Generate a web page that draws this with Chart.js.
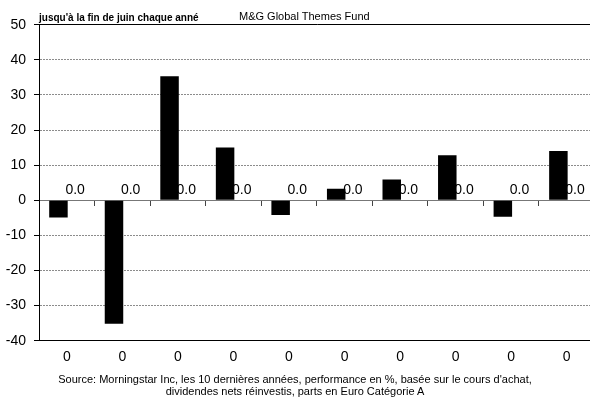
<!DOCTYPE html>
<html lang="fr">
<head>
  <meta charset="UTF-8">
  <title>M&amp;G Global Themes Fund</title>
  <script src="https://cdn.jsdelivr.net/npm/chart.js"></script>
  <style>
    body { margin: 0; padding: 0; background: #fff; overflow: hidden; font-family: "Liberation Sans", Arial, sans-serif; }
    #wrap { position: relative; width: 596px; height: 412px; }
    #head { position: absolute; left: 39px; top: 12px; font-size: 10px; line-height: 12px; font-weight: bold; color: #000; white-space: nowrap; }
    #fund { position: absolute; left: 239px; top: 9.5px; font-size: 11px; line-height: 13px; color: #000; white-space: nowrap; }
    #source { position: absolute; left: 0; width: 590px; top: 373px; font-size: 11px; line-height: 12px; text-align: center; color: #000; }
  </style>
</head>
<body>
  <div id="wrap">
    <canvas id="perfChart"></canvas>
    <div id="head">jusqu'à la fin de juin chaque anné</div>
    <div id="fund">M&amp;G Global Themes Fund</div>
    <div id="source">Source: Morningstar Inc, les 10 dernières années, performance en %, basée sur le cours d'achat,<br>dividendes nets réinvestis, parts en Euro Catégorie A</div>
  </div>
  <script>
    // categories (the year labels came out as 0 in the original)
    const xLabels = ['0', '0', '0', '0', '0', '0', '0', '0', '0', '0'];
    // fund performance in %
    const fundValues = [-4.9, -35.2, 35.3, 15.0, -4.2, 3.3, 5.9, 12.8, -4.7, 14.0];
    // second series, all zero, only its labels show
    const zeroValues = [0, 0, 0, 0, 0, 0, 0, 0, 0, 0];
    const yTicks = [50, 40, 30, 20, 10, 0, -10, -20, -30, -40];

    const FONT = '"Liberation Sans", Arial, sans-serif';

    // draws "0.0" above the second series, before the bars so they cover it
    const valueLabels = {
      id: 'valueLabels',
      beforeDatasetsDraw(chart) {
        const ctx = chart.ctx;
        const meta = chart.getDatasetMeta(1);
        ctx.save();
        ctx.font = '14px ' + FONT;
        ctx.fillStyle = '#000';
        ctx.textAlign = 'center';
        ctx.textBaseline = 'alphabetic';
        meta.data.forEach((bar, i) => {
          ctx.fillText(zeroValues[i].toFixed(1), bar.x, bar.y - 6);
        });
        ctx.restore();
      }
    };

    const isEdge = v => v === yTicks[0] || v === yTicks[yTicks.length - 1];

    new Chart(document.getElementById('perfChart'), {
      type: 'bar',
      data: {
        labels: xLabels,
        datasets: [
          { data: fundValues, backgroundColor: '#000', borderWidth: 0, categoryPercentage: 0.6, barPercentage: 1.11 },
          { data: zeroValues, backgroundColor: 'rgba(0,0,0,0)', borderWidth: 0, categoryPercentage: 0.6, barPercentage: 1.11 }
        ]
      },
      options: {
        responsive: true,
        maintainAspectRatio: false,
        animation: false,
        layout: { padding: { top: 24.7, right: 1.5, left: 0, bottom: 0 } },
        plugins: { legend: { display: false }, tooltip: { enabled: false }, title: { display: false } },
        scales: {
          x: {
            type: 'category',
            offset: true,
            grid: { display: false },
            border: { display: true, color: '#000', width: 1 },
            ticks: { color: '#000', font: { family: FONT, size: 14 }, padding: 0, maxRotation: 0, autoSkip: false },
            afterFit(scale) { scale.height = 71.3; }
          },
          xZero: {
            type: 'category',
            labels: xLabels,
            position: { y: 0 },
            offset: true,
            grid: { display: true, offset: true, drawOnChartArea: false, drawTicks: true, tickLength: 5, tickColor: '#444', lineWidth: 1 },
            border: { display: true, color: '#777', width: 1 },
            ticks: { display: false }
          },
          y: {
            min: -40,
            max: 50,
            ticks: { stepSize: 10, color: '#000', font: { family: FONT, size: 14 }, padding: 8 },
            grid: {
              color: c => (c.tick && isEdge(c.tick.value)) ? '#000' : '#8c8c8c',
              lineWidth: 1,
              drawTicks: true,
              tickLength: 5,
              tickColor: '#000'
            },
            border: {
              display: true,
              color: '#000',
              width: 1,
              dash: c => (c.tick && !isEdge(c.tick.value)) ? [2, 1] : []
            },
            afterFit(scale) { scale.width = 39; }
          }
        }
      },
      plugins: [valueLabels]
    });
  </script>
</body>
</html>
